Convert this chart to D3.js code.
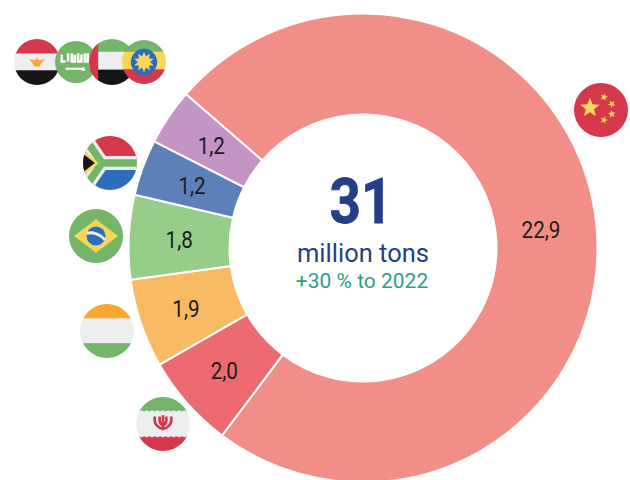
<!DOCTYPE html>
<html>
<head>
<meta charset="utf-8">
<script src="https://cdn.jsdelivr.net/npm/d3@7/dist/d3.min.js"></script>
<style>
html,body{margin:0;padding:0;background:#fff;}
svg{display:block;font-family:Roboto,sans-serif;}
</style>
</head>
<body>
<svg id="chart" width="630" height="480"></svg>
<script>
// Producers and their output, million tons
const producers = ["China", "Iran", "India", "Brazil", "South Africa", "Other"];
const tons = [22.9, 2.0, 1.9, 1.8, 1.2, 1.2];
const valueLabels = ["22,9", "2,0", "1,9", "1,8", "1,2", "1,2"];
const sliceColors = ["#f28e88", "#ed6a70", "#f8ba62", "#96cd88", "#5d80b8", "#c394c4"];

const totalLabel = "31";
const unitLabel = "million tons";
const changeLabel = "+30 % to 2022";

const RED = "#d5384a", GREEN = "#74b56a", PALE = "#eceef0", BLACK = "#161616",
      YELLOW = "#f8d65a", BLUE = "#2d6dbb", ORANGE = "#f6a833";

const svg = d3.select("#chart");
const cx = 363, cy = 248, outerR = 234.5, innerR = 133.5;
const startAngle = -49 * Math.PI / 180;
// Distance of each value label from the ring's centre
const labelRadii = [179, 185, 187, 184, 182, 183];

const pie = d3.pie().sort(null).startAngle(startAngle).endAngle(startAngle + 2 * Math.PI);
const arc = d3.arc().innerRadius(innerR).outerRadius(outerR);

const donut = svg.append("g").attr("transform", `translate(${cx},${cy})`);
const arcs = pie(tons);

donut.selectAll("path.slice").data(arcs).join("path")
  .attr("class", "slice")
  .attr("d", arc)
  .attr("fill", (d, i) => sliceColors[i])
  .attr("stroke", "#fff")
  .attr("stroke-width", 2);

donut.selectAll("text.value").data(arcs).join("text")
  .attr("class", "value")
  .attr("transform", (d, i) => {
    const [x, y] = d3.arc().innerRadius(labelRadii[i]).outerRadius(labelRadii[i]).centroid(d);
    return `translate(${x},${y}) scale(0.86,1)`;
  })
  .attr("text-anchor", "middle")
  .attr("dy", "0.36em")
  .attr("font-size", 24)
  .attr("fill", "#1d1d1b")
  .text((d, i) => valueLabels[i]);

// Centre block, slightly condensed
function centreText(x, y, sx, size, weight, fill, str) {
  return svg.append("text")
    .attr("transform", `translate(${x},${y}) scale(${sx},1)`)
    .attr("text-anchor", "middle")
    .attr("font-size", size).attr("font-weight", weight).attr("fill", fill)
    .text(str);
}
centreText(361, 223, 0.87, 63, 700, "#223f87", totalLabel)
  .attr("stroke", "#223f87").attr("stroke-width", 0.8);
centreText(363, 262, 1.02, 25, 400, "#223f87", unitLabel);
centreText(362, 288, 1.0, 21, 400, "#2ba084", changeLabel);

// Flag badges: each one paints in a unit box of [-1,1] clipped to a disc
const defs = svg.append("defs");
defs.append("clipPath").attr("id", "disc").attr("clipPathUnits", "userSpaceOnUse")
  .append("circle").attr("r", 1);

function bands(g, rows) {
  rows.forEach(([y0, y1, c]) => g.append("rect")
    .attr("x", -1).attr("width", 2).attr("y", y0).attr("height", y1 - y0).attr("fill", c));
}
function star(g, x, y, r, rot, c, points = 5, waist = 0.42) {
  const pts = d3.range(points * 2).map(i => {
    const a = rot + i * Math.PI / points - Math.PI / 2, q = i % 2 ? r * waist : r;
    return [x + q * Math.cos(a), y + q * Math.sin(a)];
  });
  g.append("polygon").attr("points", pts.join(" ")).attr("fill", c);
}

const flagPainters = {
  china(g) {
    bands(g, [[-1, 1, RED]]);
    star(g, -0.41, -0.08, 0.38, 0, YELLOW);
    [[0.11, -0.48, 0.3], [0.4, -0.22, 0.7], [0.4, 0.15, 1.1], [0.11, 0.37, 0.3]]
      .forEach(([x, y, r]) => star(g, x, y, 0.15, r, YELLOW));
  },
  iran(g) {
    bands(g, [[-1, -0.46, GREEN], [-0.46, 0.46, PALE], [0.46, 1, RED]]);
    const teeth = d3.range(-0.8, 0.85, 0.2);
    g.selectAll(null).data(teeth).join("rect")
      .attr("x", d => d - 0.05).attr("y", -0.5).attr("width", 0.1).attr("height", 0.06).attr("fill", PALE);
    g.selectAll(null).data(teeth).join("rect")
      .attr("x", d => d - 0.05).attr("y", 0.43).attr("width", 0.1).attr("height", 0.06).attr("fill", PALE);
    g.append("path")
      .attr("d", "M-0.3,-0.28C-0.36,0.02 -0.16,0.16 0,0.18C0.16,0.16 0.36,0.02 0.3,-0.28M-0.12,-0.28C-0.15,-0.08 -0.08,0.02 0,0.06C0.08,0.02 0.15,-0.08 0.12,-0.28M0,-0.32V0.22")
      .attr("fill", "none").attr("stroke", RED).attr("stroke-width", 0.1);
  },
  india(g) {
    bands(g, [[-1, -0.46, ORANGE], [-0.46, 0.45, PALE], [0.45, 1, GREEN]]);
  },
  brazil(g) {
    bands(g, [[-1, 1, GREEN]]);
    g.append("polygon").attr("points", "-0.81,0 0,-0.62 0.81,0 0,0.62").attr("fill", YELLOW);
    g.append("circle").attr("r", 0.35).attr("fill", BLUE);
    g.append("path").attr("d", "M-0.34,-0.1C-0.1,-0.16 0.2,-0.04 0.33,0.14")
      .attr("fill", "none").attr("stroke", PALE).attr("stroke-width", 0.11);
  },
  southAfrica(g) {
    bands(g, [[-1, -0.02, RED], [-0.02, 1, BLUE]]);
    const yShape = "M-1,-1.02L-0.3,0H1.1M-1,1.02L-0.3,0";
    g.append("path").attr("d", yShape).attr("fill", "none").attr("stroke", PALE).attr("stroke-width", 0.52);
    g.append("path").attr("d", yShape).attr("fill", "none").attr("stroke", GREEN).attr("stroke-width", 0.28);
    g.append("polygon").attr("points", "-1.1,-0.58 -0.42,0 -1.1,0.58").attr("fill", YELLOW);
    g.append("polygon").attr("points", "-1.1,-0.42 -0.56,0 -1.1,0.42").attr("fill", BLACK);
  },
  egypt(g) {
    bands(g, [[-1, -0.36, RED], [-0.36, 0.36, PALE], [0.36, 1, BLACK]]);
    g.append("path").attr("d", "M-0.34,-0.12L-0.1,-0.08L0,-0.17L0.1,-0.08L0.34,-0.12L0.18,0.08L0.1,0.2H-0.1L-0.18,0.08Z")
      .attr("fill", ORANGE);
  },
  saudi(g) {
    bands(g, [[-1, 1, GREEN]]);
    g.append("path")
      .attr("d", "M-0.68,-0.34V-0.02H-0.5M-0.38,-0.42V-0.02M-0.2,-0.42V-0.02H-0.06V-0.34M0.1,-0.42V-0.02H0.26V-0.36M0.42,-0.42V-0.02H0.56V-0.42")
      .attr("fill", "none").attr("stroke", "#fff").attr("stroke-width", 0.12);
    g.append("path").attr("d", "M-0.5,0.32H0.3")
      .attr("fill", "none").attr("stroke", "#fff").attr("stroke-width", 0.1);
    g.append("circle").attr("cx", 0.34).attr("cy", 0.34).attr("r", 0.09).attr("fill", "#fff");
  },
  uae(g) {
    bands(g, [[-1, -0.44, GREEN], [-0.44, 0.33, PALE], [0.33, 1, BLACK]]);
    g.append("rect").attr("x", -1).attr("y", -1).attr("width", 0.4).attr("height", 2).attr("fill", RED);
  },
  ethiopia(g) {
    bands(g, [[-1, -0.46, GREEN], [-0.46, 0.33, YELLOW], [0.33, 1, RED]]);
    g.append("circle").attr("r", 0.6).attr("fill", BLUE);
    star(g, 0, 0, 0.46, 0, YELLOW, 10, 0.6);
  }
};

const flagOrder = ["china", "iran", "india", "brazil", "southAfrica", "egypt", "saudi", "uae", "ethiopia"];
const flagCentres = {
  china: [601, 110, 27], iran: [163, 424, 27], india: [107, 331, 27],
  brazil: [96, 236, 27], southAfrica: [110, 163, 27],
  egypt: [37, 62, 23], saudi: [76, 62, 21], uae: [112, 62, 23], ethiopia: [144, 62, 22]
};

flagOrder.forEach(name => {
  const [x, y, r] = flagCentres[name];
  const g = svg.append("g").attr("transform", `translate(${x},${y}) scale(${r})`);
  const inner = g.append("g").attr("clip-path", "url(#disc)");
  flagPainters[name](inner);
});
</script>
</body>
</html>
